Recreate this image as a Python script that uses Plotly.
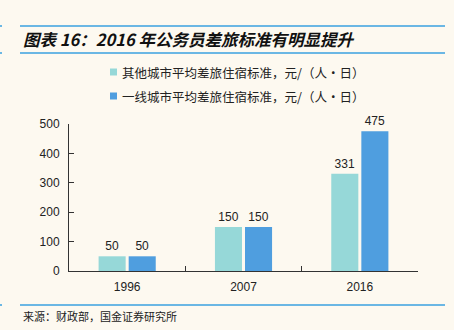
import plotly.graph_objects as go

# Data
years = ["1996", "2007", "2016"]
other_cities = [50, 150, 331]
tier1_cities = [50, 150, 475]
series_names = ["其他城市平均差旅住宿标准，元/（人·日）", "一线城市平均差旅住宿标准，元/（人·日）"]
y_ticks = [0, 100, 200, 300, 400, 500]

W, H = 454, 330
L, R, T, B = 69, 36, 124, 59
PW, PH = W - L - R, H - T - B

def px_x(px):
    return (px - L) / PW

def px_y(py):
    return (H - B - py) / PH

BG = "#FDF9F0"
LIGHT = "#96D8D8"
DARK = "#4F9EDF"
RULE = "#3AA0E0"
FONT = "Liberation Sans, Arial, Noto Sans CJK SC, sans-serif"
colors = [LIGHT, DARK]

fig = go.Figure()
for name, vals, col in [(series_names[0], other_cities, LIGHT), (series_names[1], tier1_cities, DARK)]:
    fig.add_trace(go.Bar(
        x=years, y=vals, name=name, marker=dict(color=col, line=dict(width=0)),
        text=[str(v) for v in vals], textposition="outside", cliponaxis=False,
        textfont=dict(size=12, color="#222222", family=FONT),
        showlegend=False,
    ))

fig.update_layout(
    width=W, height=H, margin=dict(l=L, r=R, t=T, b=B),
    paper_bgcolor=BG, plot_bgcolor=BG,
    barmode="group", bargap=0.483, bargroupgap=0.1,
    font=dict(family=FONT, color="#222222"),
    xaxis=dict(type="category", showline=True, linecolor="#333333", linewidth=1,
               ticks="inside", ticklen=5, tickcolor="#333333", tickson="boundaries",
               tickfont=dict(size=12, color="#222222"), showgrid=False, zeroline=False,
               range=[-0.5, 2.5], ticklabelstandoff=5),
    yaxis=dict(range=[0, 500], tickvals=y_ticks, showline=True, linecolor="#333333",
               linewidth=1, ticks="inside", ticklen=5, tickcolor="#333333",
               tickfont=dict(size=12, color="#222222"), showgrid=False, zeroline=False,
               ticklabelstandoff=6),
)

# Legend: small square swatches with labels
for i, (name, col) in enumerate(zip(series_names, colors)):
    cy = 72 + 24 * i
    fig.add_shape(type="rect", xref="paper", yref="paper",
                  x0=px_x(110), x1=px_x(117), y0=px_y(cy + 3.5), y1=px_y(cy - 3.5),
                  fillcolor=col, line=dict(width=0))
    fig.add_annotation(text=name, xref="paper", yref="paper",
                       x=px_x(120), y=px_y(cy), xanchor="left", yanchor="middle",
                       showarrow=False,
                       font=dict(size=12.5, color="#222222", family="Noto Sans CJK SC, sans-serif"))

# Title and source
fig.add_annotation(text="<b><i>图表 16：2016 年公务员差旅标准有明显提升</i></b>",
                   xref="paper", yref="paper", x=px_x(21), y=px_y(39),
                   xanchor="left", yanchor="middle", showarrow=False,
                   font=dict(size=16.5, color="#111111", family="Noto Sans CJK SC, sans-serif"))
fig.add_annotation(text="来源：财政部，国金证券研究所",
                   xref="paper", yref="paper", x=px_x(21), y=px_y(316),
                   xanchor="left", yanchor="middle", showarrow=False,
                   font=dict(size=11, color="#222222", family="Noto Sans CJK SC, sans-serif"))

# Horizontal rules
for py in (26, 53, 305):
    fig.add_shape(type="line", xref="paper", yref="paper",
                  x0=px_x(20), x1=px_x(445), y0=px_y(py), y1=px_y(py),
                  line=dict(color=RULE, width=1.5))
    fig.add_shape(type="line", xref="paper", yref="paper",
                  x0=px_x(0), x1=px_x(2), y0=px_y(py), y1=px_y(py),
                  line=dict(color=RULE, width=1.5))

fig.write_html("out.html")
